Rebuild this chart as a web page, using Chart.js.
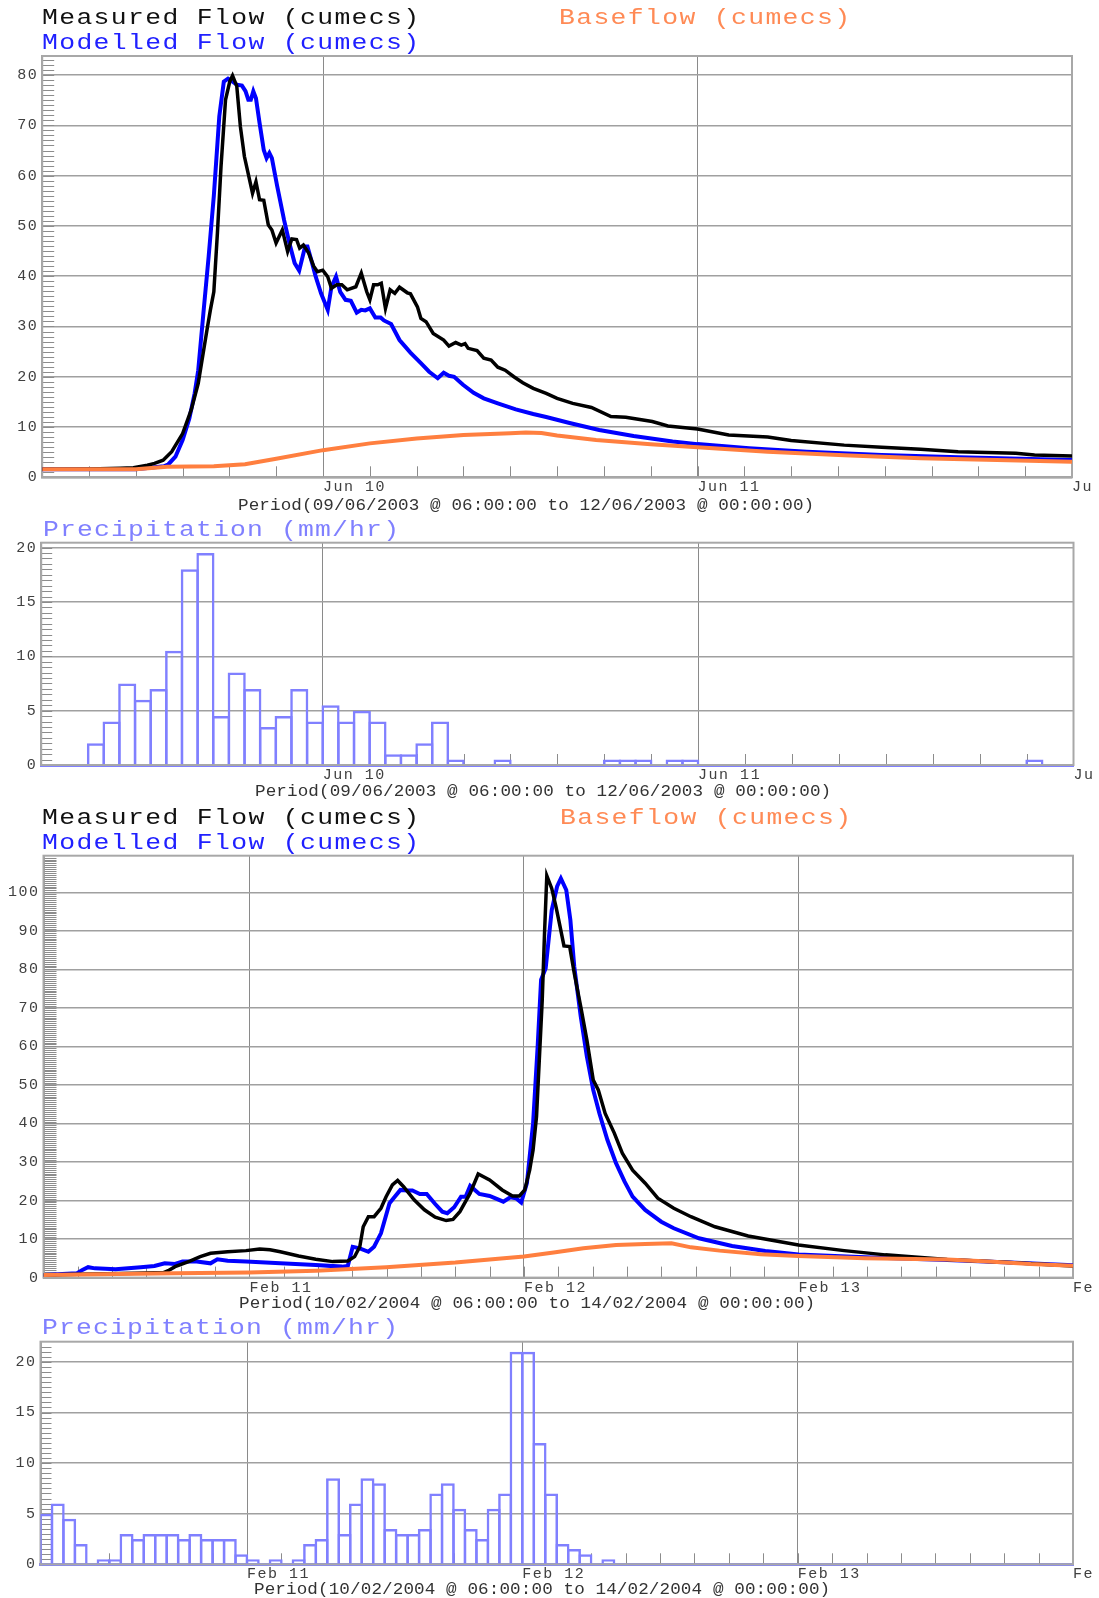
<!DOCTYPE html>
<html>
<head>
<meta charset="utf-8">
<script src="https://cdn.jsdelivr.net/npm/chart.js@4.4.1/dist/chart.umd.min.js"></script>
<style>
  body { margin: 0; background: #fff; width: 1099px; height: 1598px; position: relative; overflow: hidden; }
  canvas { position: absolute; left: 0; }
  .t { position: absolute; font-family: 'Liberation Mono', monospace; white-space: pre; line-height: 1; transform-origin: left top; }
  .big { font-size: 22px; letter-spacing: 1.13px; transform: scaleX(1.2); }
  .rain { font-size: 22px; letter-spacing: 0.97px; transform: scaleX(1.2); color: #8080ff; }
  .per { font-size: 16px; letter-spacing: 0.1px; transform: scaleX(1.1); color: #333; }
</style>
</head>
<body>
<canvas id="flowJun" width="1099" height="500" style="top:0"></canvas>
<canvas id="rainJun" width="1099" height="262" style="top:520px"></canvas>
<canvas id="flowFeb" width="1099" height="510" style="top:790px"></canvas>
<canvas id="rainFeb" width="1099" height="278" style="top:1320px"></canvas>

<div class="t big" style="left:42px;top:8px;color:#111">Measured Flow (cumecs)</div>
<div class="t big" style="left:559px;top:8px;color:#ff8a55">Baseflow (cumecs)</div>
<div class="t big" style="left:42px;top:33px;color:#2020ff">Modelled Flow (cumecs)</div>
<div class="t per" style="left:238px;top:498px">Period(09/06/2003 @ 06:00:00 to 12/06/2003 @ 00:00:00)</div>
<div class="t rain" style="left:43px;top:520px">Precipitation (mm/hr)</div>
<div class="t per" style="left:255px;top:784px">Period(09/06/2003 @ 06:00:00 to 12/06/2003 @ 00:00:00)</div>

<div class="t big" style="left:42px;top:808px;color:#111">Measured Flow (cumecs)</div>
<div class="t big" style="left:560px;top:808px;color:#ff8a55">Baseflow (cumecs)</div>
<div class="t big" style="left:42px;top:833px;color:#2020ff">Modelled Flow (cumecs)</div>
<div class="t per" style="left:239px;top:1296px">Period(10/02/2004 @ 06:00:00 to 14/02/2004 @ 00:00:00)</div>
<div class="t rain" style="left:42px;top:1318px">Precipitation (mm/hr)</div>
<div class="t per" style="left:254px;top:1582px">Period(10/02/2004 @ 06:00:00 to 14/02/2004 @ 00:00:00)</div>

<script>
// hours since 09/06/2003 06:00
const junMeasuredHours = [0, 3, 5, 5.84, 6.74, 7.2, 7.75, 8.3, 9.0, 9.55, 10.0, 10.56, 10.78, 11.0, 11.23, 11.46, 11.75, 12.02, 12.2, 12.47, 12.7, 12.96, 13.48, 13.7, 13.93, 14.2, 14.49, 14.72, 14.99, 15.39, 15.73, 16.0, 16.3, 16.5, 16.74, 17.08, 17.4, 17.64, 17.98, 18.3, 18.54, 18.88, 19.2, 19.55, 20.1, 20.45, 20.8, 21.0, 21.24, 21.5, 21.73, 22.0, 22.3, 22.6, 22.9, 23.4, 23.6, 24.05, 24.27, 24.6, 25.06, 25.73, 26.07, 26.5, 26.86, 27.1, 27.3, 27.87, 28.3, 28.77, 29.2, 29.67, 30.23, 30.8, 31.47, 32.3, 33.0, 34.0, 35.2, 36.45, 37.4, 39.1, 40.1, 42.0, 44.0, 46.5, 48.0, 51.4, 53.8, 56.3, 58.7, 62.4, 63.6, 66];
const junMeasured = [1.6, 1.65, 1.8, 1.9, 2.4, 2.76, 3.4, 5.1, 8.7, 13.4, 18.7, 29.3, 33.3, 36.9, 48.6, 61.8, 75.1, 78.7, 79.9, 77.8, 69.8, 63.8, 56.5, 58.8, 55.2, 55.1, 50.2, 49.2, 46.6, 49.2, 44.9, 47.4, 47.3, 45.6, 46.2, 44.6, 42.0, 40.9, 41.2, 39.9, 37.6, 38.3, 38.3, 37.3, 37.9, 40.6, 36.9, 35.3, 38.3, 38.3, 38.6, 33.6, 37.3, 36.6, 37.8, 36.7, 36.5, 33.9, 31.6, 30.96, 28.6, 27.3, 26.1, 26.8, 26.3, 26.6, 25.65, 25.2, 23.7, 23.3, 21.9, 21.3, 20.0, 18.8, 17.7, 16.7, 15.7, 14.7, 13.9, 12.1, 11.95, 11.1, 10.2, 9.6, 8.4, 8.0, 7.3, 6.4, 6.0, 5.6, 5.1, 4.8, 4.45, 4.25];

const junModelledHours = [0, 6, 7.8, 8.09, 8.54, 9.0, 9.43, 9.77, 10.0, 10.33, 10.67, 11.0, 11.35, 11.64, 11.91, 12.2, 12.47, 12.8, 13.03, 13.21, 13.37, 13.53, 13.7, 13.93, 14.2, 14.38, 14.56, 14.72, 15.06, 15.5, 15.84, 16.18, 16.47, 16.85, 17.0, 17.3, 17.53, 17.87, 18.3, 18.54, 18.83, 19.1, 19.44, 19.78, 20.16, 20.45, 20.7, 21.0, 21.35, 21.69, 21.9, 22.36, 22.9, 23.6, 24.27, 24.8, 25.35, 25.73, 26.07, 26.4, 26.97, 27.65, 28.3, 29.2, 30.35, 31.47, 32.3, 33.8, 35.7, 37.9, 40.4, 42, 45.3, 49, 53.8, 58.7, 66];
const junModelled = [1.6, 1.6, 2.2, 2.6, 4.1, 7.4, 11.7, 16.7, 21.3, 32.6, 44.0, 56.0, 71.8, 78.7, 79.3, 78.7, 78.1, 77.9, 76.8, 75.1, 75.1, 76.8, 75.4, 70.5, 65.1, 63.5, 64.5, 63.5, 57.9, 51.2, 46.6, 42.6, 41.1, 45.9, 45.9, 42.6, 39.9, 36.6, 33.3, 37.9, 39.9, 36.9, 35.3, 35.1, 32.75, 33.3, 33.2, 33.6, 31.8, 31.8, 31.2, 30.5, 27.3, 24.8, 22.7, 21.0, 19.7, 20.8, 20.2, 20.0, 18.4, 16.8, 15.7, 14.7, 13.5, 12.6, 12.0, 10.8, 9.4, 8.2, 7.1, 6.6, 5.8, 5.1, 4.45, 4.0, 3.46];

const junBaseHours = [0, 6, 8, 11, 13, 15, 18, 21, 24, 27, 30, 31, 32, 33, 35.5, 39, 42, 46.5, 51.4, 56.3, 61.2, 66];
const junBase = [1.6, 1.6, 2.1, 2.2, 2.6, 3.7, 5.4, 6.75, 7.74, 8.4, 8.74, 8.9, 8.8, 8.3, 7.44, 6.58, 6.0, 5.1, 4.4, 3.8, 3.46, 3.1];

// hourly rainfall from 09/06/2003 06:00
const junRain = [0, 0, 0, 2, 4, 7.5, 6, 7, 10.5, 18,
  19.5, 4.5, 8.5, 7, 3.5, 4.5, 7, 4, 5.5, 4,
  5, 4, 1, 1, 2, 4, 0.5, 0, 0, 0.5,
  0, 0, 0, 0, 0, 0, 0.5, 0.5, 0.5, 0,
  0.5, 0.5, 0, 0, 0, 0, 0, 0, 0, 0,
  0, 0, 0, 0, 0, 0, 0, 0, 0, 0,
  0, 0, 0, 0.5, 0, 0];

const junDayHours = [18, 42, 66];
const junDayLabels = ['Jun 10', 'Jun 11', 'Ju'];

// hours since 10/02/2004 06:00
const febMeasuredHours = [0, 3, 8, 10.5, 10.9, 11.5, 12.8, 13.7, 14.6, 16.1, 17.7, 18.9, 19.8, 20.7, 22.3, 23.8, 25.3, 26.6, 27.2, 27.65, 27.95, 28.4, 28.9, 29.5, 29.95, 30.5, 30.96, 31.48, 32.4, 33.3, 34.24, 35.2, 35.8, 36.4, 37.3, 38.0, 39.0, 40.1, 41.0, 41.6, 42.07, 42.5, 42.8, 43.1, 43.6, 43.8, 44.0, 44.43, 44.8, 45.16, 45.5, 46.0, 46.4, 46.97, 47.5, 48.06, 48.5, 49.1, 49.9, 50.6, 51.5, 52.6, 53.7, 55.1, 56.6, 58.7, 61.6, 66.0, 70, 73.6, 79, 84.5, 90];
const febMeasured = [0.7, 0.9, 1.1, 1.3, 1.8, 2.85, 4.3, 5.45, 6.3, 6.7, 7.0, 7.4, 7.2, 6.7, 5.6, 4.75, 4.15, 4.3, 5.45, 8.0, 13.2, 15.8, 15.8, 18.0, 21.0, 24.05, 25.2, 23.6, 20.2, 17.6, 15.7, 14.8, 15.1, 17.1, 21.9, 26.9, 25.35, 22.75, 21.2, 21.2, 22.75, 27.9, 33.1, 41.8, 72, 89.4, 104.3, 101, 96.3, 91.1, 86.1, 85.9, 79, 70.3, 61.7, 51.3, 48.7, 42.6, 37.5, 32.3, 27.9, 24.5, 20.6, 18.0, 15.8, 13.2, 10.8, 8.45, 7.0, 5.9, 4.7, 3.9, 3.0];

const febModelledHours = [0, 2.9, 3.4, 3.9, 4.5, 6.3, 8.5, 9.7, 10.6, 11.5, 12.15, 13.4, 14.6, 15.2, 16.1, 17.7, 20.7, 23.8, 26.1, 26.6, 27.03, 27.65, 28.4, 28.9, 29.5, 30.25, 30.6, 31.2, 31.8, 32.25, 32.9, 33.5, 34.24, 34.86, 35.3, 35.9, 36.5, 36.9, 37.3, 38.1, 39.0, 40.2, 40.8, 41.3, 41.76, 42.26, 42.8, 43.2, 43.5, 43.9, 44.43, 44.9, 45.23, 45.7, 46.06, 46.4, 46.97, 47.5, 48.06, 48.6, 49.3, 50.05, 50.8, 51.5, 52.6, 54.0, 55.1, 57.3, 60.2, 63.1, 66, 71.8, 79, 84.5, 90];
const febModelled = [0.7, 1.1, 2.0, 2.7, 2.4, 2.15, 2.7, 3.0, 3.7, 3.55, 4.15, 4.15, 3.7, 4.75, 4.4, 4.15, 3.7, 3.3, 2.85, 3.0, 8.0, 7.6, 6.7, 8.0, 11.5, 19.3, 20.6, 22.75, 22.6, 22.6, 21.7, 21.7, 19.1, 17.1, 16.7, 18.25, 21.0, 21.0, 23.8, 21.7, 21.2, 19.7, 20.85, 20.6, 19.5, 24.5, 40.0, 60, 77.3, 80.3, 95.4, 101.5, 103.6, 100.6, 92.8, 80.7, 67.7, 57.4, 48.7, 42.6, 35.7, 29.7, 24.9, 21.0, 17.55, 14.5, 12.8, 10.2, 8.2, 6.9, 6.0, 5.25, 4.55, 3.9, 3.2];

const febBaseHours = [0, 11.5, 18, 23.8, 29.95, 36, 42, 44.6, 47.2, 50.05, 52.6, 54.9, 56.6, 59.1, 62.7, 66, 71.8, 79, 82.6, 86.3, 90];
const febBase = [0.7, 1.1, 1.3, 1.8, 2.7, 3.9, 5.5, 6.5, 7.6, 8.45, 8.7, 8.9, 7.85, 7.0, 6.05, 5.6, 5.0, 4.7, 4.15, 3.5, 3.1];

// hourly rainfall from 10/02/2004 06:00
const febRain = [5, 6, 4.5, 2, 0, 0.5, 0.5, 3, 2.5, 3,
  3, 3, 2.5, 3, 2.5, 2.5, 2.5, 1, 0.5, 0,
  0.5, 0, 0.5, 2, 2.5, 8.5, 3, 6, 8.5, 8,
  3.5, 3, 3, 3.5, 7, 8, 5.5, 3.5, 2.5, 5.5,
  7, 21, 21, 12, 7, 2, 1.5, 1, 0, 0.5,
  0, 0, 0, 0, 0, 0, 0, 0, 0, 0,
  0, 0, 0, 0, 0, 0, 0, 0, 0, 0,
  0, 0, 0, 0, 0, 0, 0, 0, 0, 0,
  0, 0, 0, 0, 0, 0, 0, 0, 0, 0];

const febDayHours = [18, 42, 66, 90];
const febDayLabels = ['Feb 11', 'Feb 12', 'Feb 13', 'Fe'];

const tickFont = { family: 'Liberation Mono', size: 15 };
const rainColour = '#8080ff';

// chart.js has no letter spacing option, set it on the context
const spacedText = {
    id: 'spacedText',
    beforeDraw: function (chart) {
        chart.ctx.letterSpacing = '1.5px';
    }
};

// box round the plot plus the short inside ticks
const plotFrame = {
    id: 'plotFrame',
    beforeDatasetsDraw: function (chart, args, opts) {
        const ctx = chart.ctx;
        const a = chart.chartArea;
        const x = chart.scales.x;
        const y = chart.scales.y;
        ctx.save();
        ctx.strokeStyle = '#8c8c8c';
        ctx.lineWidth = 1;
        ctx.beginPath();
        for (let h = 3; h < x.max; h += 3) {
            const px = Math.round(x.getPixelForValue(h)) + 0.5;
            ctx.moveTo(px, a.bottom);
            ctx.lineTo(px, a.bottom - 11);
        }
        for (let v = opts.yStep; v < y.max; v += opts.yStep) {
            const py = Math.round(y.getPixelForValue(v)) + 0.5;
            ctx.moveTo(a.left, py);
            ctx.lineTo(a.left + opts.tick, py);
        }
        ctx.stroke();
        ctx.strokeStyle = '#a8a8a8';
        ctx.lineWidth = 2;
        ctx.strokeRect(a.left, a.top, a.right - a.left, a.bottom - a.top);
        ctx.restore();
    }
};

const pairs = function (xs, ys) {
    return xs.map((x, i) => ({ x: x, y: ys[i] }));
};

const timeAxis = function (end, days, labels, axisHeight, baseColour, baseWidth) {
    return {
        type: 'linear', min: 0, max: end, offset: false,
        afterBuildTicks: function (s) { s.ticks = days.map(v => ({ value: v })); },
        afterFit: function (s) { s.height = axisHeight; s.paddingLeft = 0; s.paddingRight = 0; },
        ticks: {
            callback: (v, i) => labels[i],
            align: 'start', autoSkip: false, maxRotation: 0, padding: 1,
            color: '#404040', font: tickFont
        },
        grid: { color: '#8a8a8a', lineWidth: 1, drawTicks: false, offset: false },
        border: { color: baseColour, width: baseWidth }
    };
};

const valueAxis = function (max, step, axisWidth) {
    return {
        min: 0, max: max,
        afterFit: function (s) { s.width = axisWidth; s.paddingTop = 0; s.paddingBottom = 0; },
        ticks: { stepSize: step, includeBounds: false, padding: 4, color: '#404040', font: tickFont },
        grid: { color: '#a0a0a0', lineWidth: 1.5, drawTicks: false },
        border: { color: '#a0a0a0', width: 2 }
    };
};

const flowChart = function (id, p) {
    new Chart(id, {
        type: 'line',
        data: {
            datasets: [
                { data: pairs(p.baseHours, p.base), borderColor: '#ff7f3f', borderWidth: 4, order: 1 },
                { data: pairs(p.measuredHours, p.measured), borderColor: '#000000', borderWidth: 3.5, order: 2 },
                { data: pairs(p.modelledHours, p.modelled), borderColor: '#0000ff', borderWidth: 4, order: 3 }
            ]
        },
        options: {
            responsive: false,
            animation: false,
            elements: { point: { radius: 0 }, line: { tension: 0 } },
            layout: { padding: { left: 0, top: p.top, right: p.right, bottom: 0 } },
            plugins: { legend: { display: false }, tooltip: { enabled: false }, plotFrame: { yStep: p.minor, tick: p.tick } },
            scales: {
                x: timeAxis(p.end, p.days, p.labels, p.axisHeight, '#a0a0a0', 2),
                y: valueAxis(p.max, 10, p.axisWidth)
            }
        },
        plugins: [spacedText, plotFrame]
    });
};

// bars a little wider than an hour so neighbouring outlines sit on top of each other
const rainChart = function (id, p) {
    new Chart(id, {
        type: 'bar',
        data: {
            datasets: [{
                data: p.rain.map((v, i) => ({ x: i + 0.5, y: v })),
                backgroundColor: 'rgba(0,0,0,0)',
                borderColor: rainColour,
                borderWidth: { top: 2.5, left: 2.5, right: 2.5, bottom: 0 },
                borderSkipped: false,
                barPercentage: p.barWidth,
                categoryPercentage: 1
            }]
        },
        options: {
            responsive: false,
            animation: false,
            layout: { padding: { left: 0, top: p.top, right: p.right, bottom: 0 } },
            plugins: { legend: { display: false }, tooltip: { enabled: false }, plotFrame: { yStep: 0.5, tick: 11 } },
            scales: {
                x: timeAxis(p.end, p.days, p.labels, p.axisHeight, rainColour, 3),
                y: valueAxis(p.max, 5, p.axisWidth)
            }
        },
        plugins: [spacedText, plotFrame]
    });
};

flowChart('flowJun', {
    measuredHours: junMeasuredHours, measured: junMeasured,
    modelledHours: junModelledHours, modelled: junModelled,
    baseHours: junBaseHours, base: junBase,
    end: 66, days: junDayHours, labels: junDayLabels,
    max: 83.8, minor: 1, tick: 12,
    top: 56, right: 27, axisWidth: 42.2, axisHeight: 22.7
});

rainChart('rainJun', {
    rain: junRain, end: 66, days: junDayHours, labels: junDayLabels,
    max: 20.45, barWidth: 1.16, top: 22.7, right: 25.5, axisWidth: 41.2, axisHeight: 17
});

flowChart('flowFeb', {
    measuredHours: febMeasuredHours, measured: febMeasured,
    modelledHours: febModelledHours, modelled: febModelled,
    baseHours: febBaseHours, base: febBase,
    end: 90, days: febDayHours, labels: febDayLabels,
    max: 109.5, minor: 0.5, tick: 13,
    top: 65.7, right: 26, axisWidth: 43.5, axisHeight: 22.4
});

rainChart('rainFeb', {
    rain: febRain, end: 90, days: febDayHours, labels: febDayLabels,
    max: 22, barWidth: 1.22, top: 21.7, right: 26, axisWidth: 40.5, axisHeight: 33.7
});
</script>
</body>
</html>
